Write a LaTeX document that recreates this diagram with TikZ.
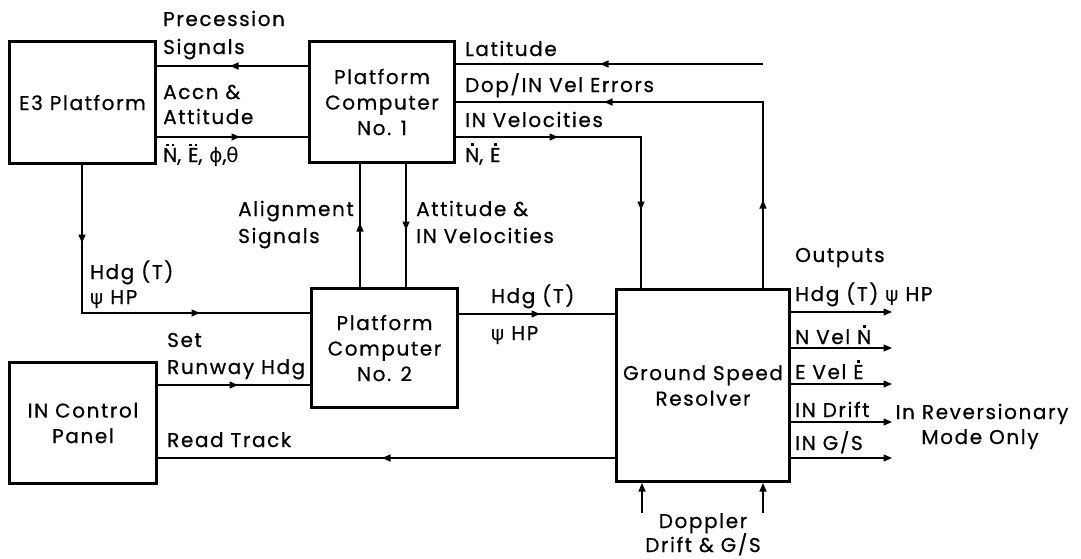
\documentclass[tikz,border=0pt]{standalone}
\usepackage{fontspec}
\setmainfont{Poppins}[LetterSpace=8,FakeBold=0.6]
\newfontfamily\gk{DejaVu Sans}
\usetikzlibrary{arrows.meta,decorations.markings}
\newcommand{\ovdot}[1]{\ooalign{#1\cr\hidewidth\raisebox{0.8em}{\rule{0.13em}{0.13em}}\hidewidth\cr}}
\newcommand{\ovddot}[1]{\ooalign{#1\cr\hidewidth\raisebox{0.8em}{\rule{0.12em}{0.12em}\kern0.14em\rule{0.12em}{0.12em}}\hidewidth\cr}}
\begin{document}
\begin{tikzpicture}[x=1pt,y=-1pt,
  font=\fontsize{20}{25.5}\selectfont,
  >={Triangle[length=8.5pt,width=7pt]},
  box/.style={draw,line width=3pt,inner sep=0pt,align=center},
  conn/.style={line width=1.3pt},
  marr/.style={postaction={decorate,decoration={markings,mark=at position #1 with {\arrow{>}}}}},
  lbl/.style={anchor=base west,inner sep=0pt},
  clbl/.style={anchor=base,inner sep=0pt}]
\useasboundingbox[fill=white] (0,0) rectangle (1081,558);
% boxes
\node[box,minimum width=146pt,minimum height=122pt] (e3) at (82.5,102.5) {E3 Platform};
\node[box,minimum width=145pt,minimum height=121pt] (pc1) at (382,102) {Platform\\Computer\\No. 1};
\node[box,minimum width=146pt,minimum height=119pt] (pc2) at (384.5,348) {Platform\\Computer\\No. 2};
\node[box,minimum width=173pt,minimum height=192pt] (gsr) at (703,385.5) {Ground Speed\\Resolver};
\node[box,minimum width=147pt,minimum height=121pt] (inc) at (83,423) {IN Control\\Panel};
% free ends
\coordinate (lat) at (763,64);
\coordinate (o1) at (892,312);
\coordinate (o2) at (892,348);
\coordinate (o3) at (892,384);
\coordinate (o4) at (892,422);
\coordinate (o5) at (892,458);
\coordinate (d1) at (642,513);
\coordinate (d2) at (763,513);
% connectors
\draw[conn,marr=78pt] (pc1.west |- 0,66) -- (e3.east |- 0,66);
\draw[conn,marr=83pt] (e3.east |- 0,137) -- (pc1.west |- 0,137);
\draw[conn,marr=163pt] (lat) -- (pc1.east |- lat);
\draw[conn,marr=88pt,marr=345pt] (763,0 |- gsr.north) -- (763,102) -- (pc1.east |- 0,102);
\draw[conn,marr=102pt,marr=258pt] (pc1.east |- 0,137) -- (641,137) -- (641,0 |- gsr.north);
\draw[conn,marr=64pt] (360,0 |- pc2.north) -- (360,0 |- pc1.south);
\draw[conn,marr=66pt] (406,0 |- pc1.south) -- (406,0 |- pc2.north);
\draw[conn,marr=78pt,marr=266pt] (82,0 |- e3.south) -- (82,313) -- (pc2.west |- 0,313);
\draw[conn,marr=81pt] (pc2.east |- 0,314) -- (gsr.west |- 0,314);
\draw[conn,marr=80pt] (inc.east |- 0,385) -- (pc2.west |- 0,385);
\draw[conn,marr=233pt] (gsr.west |- 0,458) -- (inc.east |- 0,458);
\foreach \o in {o1,o2,o3,o4,o5}{\draw[conn,->] (gsr.east |- \o) -- (\o);}
\draw[conn,->] (d1) -- (d1 |- gsr.south);
\draw[conn,->] (d2) -- (d2 |- gsr.south);
% labels
\node[lbl] (t1) at (163,26) {Precession};
\node[lbl] (t2) at (163,54) {Signals};
\node[lbl] (t3) at (163,99) {Accn \&};
\node[lbl] (t4) at (163,124) {Attitude};
\node[lbl] (t5) at (163,162) {\ovddot{N}, \ovddot{E}, {\gk ϕ},{\gk θ}};
\node[lbl] (t6) at (465,56) {Latitude};
\node[lbl] (t7) at (465,92) {Dop/IN Vel Errors};
\node[lbl] (t8) at (465,127) {IN Velocities};
\node[lbl] (t9) at (465,162) {\ovdot{N}, \ovdot{E}};
\node[lbl] (t10) at (238,216) {Alignment};
\node[lbl] (t11) at (238,243) {Signals};
\node[lbl] (t12) at (416,216) {Attitude \&};
\node[lbl] (t13) at (416,243) {IN Velocities};
\node[lbl] (t14) at (90,279) {Hdg (T)};
\node[lbl] (t15) at (90,304) {{\gk ψ} HP};
\node[lbl] (t16) at (167,347) {Set};
\node[lbl] (t17) at (167,374) {Runway Hdg};
\node[lbl] (t18) at (167,447) {Read Track};
\node[lbl] (t19) at (491,303) {Hdg (T)};
\node[lbl] (t20) at (491,340) {{\gk ψ} HP};
\node[lbl] (t21) at (795,262) {Outputs};
\node[lbl] (t22) at (795,301) {Hdg (T) {\gk ψ} HP};
\node[lbl] (t23) at (795,344) {N Vel \ovdot{N}};
\node[lbl] (t24) at (795,379) {E Vel \ovdot{E}};
\node[lbl] (t25) at (795,417) {IN Drift};
\node[lbl] (t26) at (795,450) {IN G/S};
\node[clbl] (t27) at (982,419) {In Reversionary};
\node[clbl] (t28) at (980,444) {Mode Only};
\node[clbl] (t29) at (703,528) {Doppler};
\node[clbl] (t30) at (703,552) {Drift \& G/S};
\end{tikzpicture}
\end{document}
